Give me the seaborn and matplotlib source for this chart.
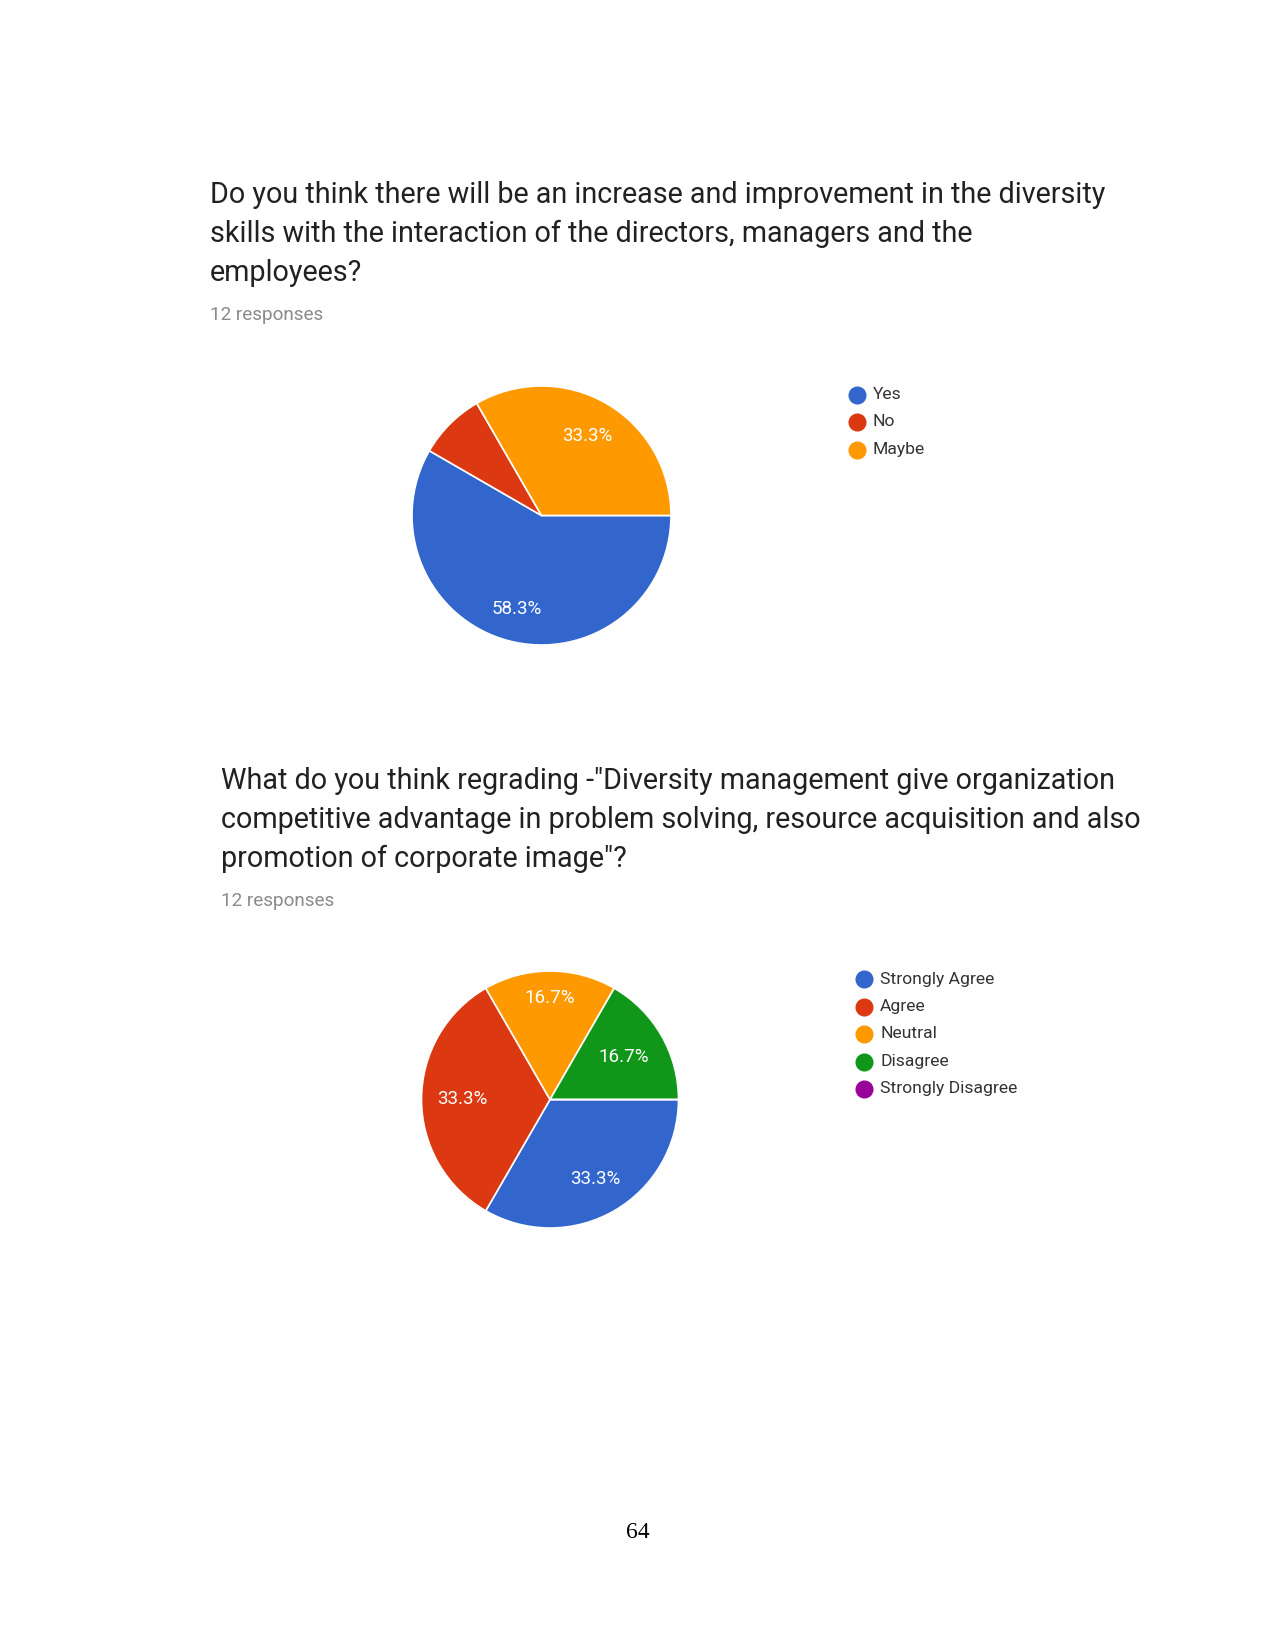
import matplotlib
matplotlib.use("Agg")
import numpy as np
import matplotlib.pyplot as plt
from matplotlib.lines import Line2D
import seaborn as sns

sns.set_theme(style="white")
plt.rcParams['font.family'] = ['Roboto', 'DejaVu Sans']

# ---- data ----
q1_title = ["Do you think there will be an increase and improvement in the diversity",
            "skills with the interaction of the directors, managers and the",
            "employees?"]
q1_labels = ["Yes", "No", "Maybe"]
q1_values = [7, 1, 4]

q2_title = ["What do you think regrading -\"Diversity management give organization",
            "competitive advantage in problem solving, resource acquisition and also",
            "promotion of corporate image\"?"]
q2_labels = ["Strongly Agree", "Agree", "Neutral", "Disagree", "Strongly Disagree"]
q2_values = [4, 4, 2, 2, 0]

responses_text = "12 responses"
page_number = "64"

palette = sns.color_palette(["#3366CC", "#DC3912", "#FF9900", "#109618", "#990099"])

W, H = 1275, 1650
fig = plt.figure(figsize=(W / 100, H / 100), dpi=100)
fig.patch.set_facecolor("white")


def fx(px):
    return px / W


def fy(py):
    return 1 - py / H


def draw_block(title_lines, title_x, baselines, resp_y, labels, values,
               cx, cy, r, leg_x, leg_y0, leg_dy, label_dist, min_pct=10):
    for line, yb in zip(title_lines, baselines):
        fig.text(fx(title_x), fy(yb), line, fontsize=20.7, color="#212121",
                 va="baseline", ha="left")
    fig.text(fx(title_x), fy(resp_y), responses_text, fontsize=13.6,
             color="#8a8a8a", va="baseline", ha="left")

    ax = fig.add_axes([fx(cx - r), fy(cy + r), (2 * r) / W, (2 * r) / H])
    wedges, texts, autotexts = ax.pie(
        values, colors=palette[:len(values)], startangle=0, counterclock=False,
        radius=1, autopct=lambda p: f"{p:.1f}%" if p >= min_pct else "",
        pctdistance=0.71,
        wedgeprops=dict(edgecolor="white", linewidth=1.2),
        textprops=dict(color="white", fontsize=13.5))
    # place labels at per-wedge distances along the wedge bisector
    for w, t, d in zip(wedges, autotexts, label_dist):
        ang = np.deg2rad((w.theta1 + w.theta2) / 2)
        t.set_position((d * np.cos(ang), d * np.sin(ang)))
    ax.set_xlim(-1, 1)
    ax.set_ylim(-1, 1)
    ax.set_aspect("equal")
    ax.axis("off")

    for i, (lab, col) in enumerate(zip(labels, palette)):
        y = leg_y0 + i * leg_dy
        fig.add_artist(Line2D([fx(leg_x)], [fy(y)], marker="o", markersize=12,
                              color=col, linestyle="none",
                              transform=fig.transFigure))
        fig.text(fx(leg_x + 16), fy(y), lab, fontsize=12.6, color="#333333",
                 va="center", ha="left")
    return ax, autotexts


draw_block(q1_title, 210, [203, 242, 281], 320, q1_labels, q1_values,
           541.5, 515.5, 129.5, 857, 394.5, 27.5, [0.75, 0.7, 0.71])
draw_block(q2_title, 221, [789, 828, 867], 906, q2_labels, q2_values,
           550, 1099.5, 128.5, 864, 979, 27.5, [0.71, 0.68, 0.79, 0.66, 0.7])

fig.text(fx(637.5), fy(1532), page_number, fontsize=17,
         family=['Liberation Serif', 'DejaVu Serif'], color="black",
         ha="center", va="center")

fig.savefig("out.png", dpi=100, facecolor="white")
